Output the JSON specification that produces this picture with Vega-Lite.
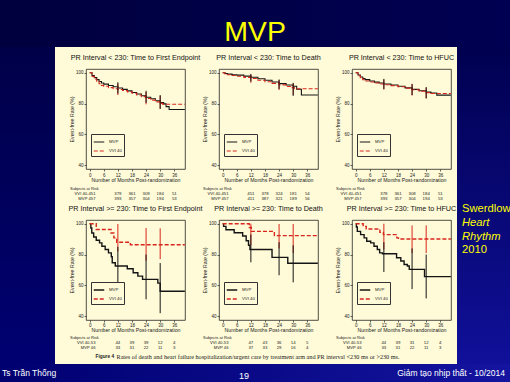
{
"$schema":"https://vega.github.io/schema/vega-lite/v6.json",
"background":"#fffbd8",
"padding":0,
"spacing":0,
"config":{
 "font":"Liberation Sans",
 "view":{"stroke":null},
 "axis":{"grid":false,"domain":false,"labelOverlap":false,"labelFlush":false,"labelFont":"Liberation Sans","titleFont":"Liberation Sans","labelFontSize":4.5,"titleFontSize":5.2,"titleFontWeight":"normal","labelColor":"#222","titleColor":"#222","tickColor":"#222","tickSize":2,"tickWidth":0.7,"labelPadding":1,"titlePadding":0.5},
 "title":{"font":"Liberation Sans","fontSize":7.2,"fontWeight":"normal","color":"#111","offset":8}
},
"datasets":{
 "km":[
  {"p":1,"arm":"MVP","m":0,"v":100},{"p":1,"arm":"MVP","m":1,"v":98.2},{"p":1,"arm":"MVP","m":2,"v":96.8},{"p":1,"arm":"MVP","m":3,"v":95.5},{"p":1,"arm":"MVP","m":4,"v":94.3},{"p":1,"arm":"MVP","m":5,"v":93.3},{"p":1,"arm":"MVP","m":6,"v":92.6},{"p":1,"arm":"MVP","m":8,"v":91.7},{"p":1,"arm":"MVP","m":10,"v":90.9},{"p":1,"arm":"MVP","m":12,"v":90.1},{"p":1,"arm":"MVP","m":14,"v":89.2},{"p":1,"arm":"MVP","m":16,"v":88.2},{"p":1,"arm":"MVP","m":18,"v":87.2},{"p":1,"arm":"MVP","m":20,"v":86.2},{"p":1,"arm":"MVP","m":22,"v":85.1},{"p":1,"arm":"MVP","m":24,"v":84.1},{"p":1,"arm":"MVP","m":26,"v":83.1},{"p":1,"arm":"MVP","m":28,"v":81.8},{"p":1,"arm":"MVP","m":30,"v":80.6},{"p":1,"arm":"MVP","m":31.5,"v":79.8},{"p":1,"arm":"MVP","m":32.5,"v":78},{"p":1,"arm":"MVP","m":33.8,"v":76.2},{"p":1,"arm":"MVP","m":40.5,"v":76.2},
  {"p":1,"arm":"VVI 40","m":0,"v":100},{"p":1,"arm":"VVI 40","m":1,"v":97.6},{"p":1,"arm":"VVI 40","m":2,"v":95.8},{"p":1,"arm":"VVI 40","m":3,"v":94.2},{"p":1,"arm":"VVI 40","m":4,"v":92.8},{"p":1,"arm":"VVI 40","m":5,"v":91.8},{"p":1,"arm":"VVI 40","m":6,"v":91.2},{"p":1,"arm":"VVI 40","m":8,"v":90.3},{"p":1,"arm":"VVI 40","m":10,"v":89.6},{"p":1,"arm":"VVI 40","m":12,"v":89.1},{"p":1,"arm":"VVI 40","m":14,"v":88.5},{"p":1,"arm":"VVI 40","m":16,"v":87.6},{"p":1,"arm":"VVI 40","m":18,"v":86.7},{"p":1,"arm":"VVI 40","m":20,"v":85.6},{"p":1,"arm":"VVI 40","m":22,"v":84.5},{"p":1,"arm":"VVI 40","m":24,"v":83.3},{"p":1,"arm":"VVI 40","m":26,"v":82.2},{"p":1,"arm":"VVI 40","m":28,"v":81.1},{"p":1,"arm":"VVI 40","m":30,"v":80.1},{"p":1,"arm":"VVI 40","m":31,"v":79.6},{"p":1,"arm":"VVI 40","m":40.5,"v":79.6},
  {"p":2,"arm":"MVP","m":0,"v":100},{"p":2,"arm":"MVP","m":1,"v":99.5},{"p":2,"arm":"MVP","m":2,"v":99.1},{"p":2,"arm":"MVP","m":4,"v":98.7},{"p":2,"arm":"MVP","m":6,"v":98.4},{"p":2,"arm":"MVP","m":9,"v":97.8},{"p":2,"arm":"MVP","m":12,"v":97.1},{"p":2,"arm":"MVP","m":15,"v":96.1},{"p":2,"arm":"MVP","m":18,"v":95.1},{"p":2,"arm":"MVP","m":21,"v":94},{"p":2,"arm":"MVP","m":24,"v":92.9},{"p":2,"arm":"MVP","m":27,"v":92},{"p":2,"arm":"MVP","m":30,"v":91.2},{"p":2,"arm":"MVP","m":31.5,"v":89.3},{"p":2,"arm":"MVP","m":33.5,"v":85.6},{"p":2,"arm":"MVP","m":40.5,"v":85.6},
  {"p":2,"arm":"VVI 40","m":0,"v":100},{"p":2,"arm":"VVI 40","m":1,"v":99.2},{"p":2,"arm":"VVI 40","m":2,"v":98.7},{"p":2,"arm":"VVI 40","m":4,"v":98.2},{"p":2,"arm":"VVI 40","m":6,"v":97.7},{"p":2,"arm":"VVI 40","m":9,"v":97},{"p":2,"arm":"VVI 40","m":12,"v":96.2},{"p":2,"arm":"VVI 40","m":15,"v":95.1},{"p":2,"arm":"VVI 40","m":18,"v":94.1},{"p":2,"arm":"VVI 40","m":21,"v":93.1},{"p":2,"arm":"VVI 40","m":24,"v":92.1},{"p":2,"arm":"VVI 40","m":27,"v":91.1},{"p":2,"arm":"VVI 40","m":29,"v":90.3},{"p":2,"arm":"VVI 40","m":30.5,"v":89.6},{"p":2,"arm":"VVI 40","m":40.5,"v":89.6},
  {"p":3,"arm":"MVP","m":0,"v":100},{"p":3,"arm":"MVP","m":1,"v":98.5},{"p":3,"arm":"MVP","m":2,"v":97.2},{"p":3,"arm":"MVP","m":3,"v":96.2},{"p":3,"arm":"MVP","m":4,"v":95.5},{"p":3,"arm":"MVP","m":6,"v":94.6},{"p":3,"arm":"MVP","m":8,"v":93.9},{"p":3,"arm":"MVP","m":10,"v":93.3},{"p":3,"arm":"MVP","m":12,"v":92.7},{"p":3,"arm":"MVP","m":15,"v":92},{"p":3,"arm":"MVP","m":18,"v":91.2},{"p":3,"arm":"MVP","m":21,"v":90.2},{"p":3,"arm":"MVP","m":24,"v":89.2},{"p":3,"arm":"MVP","m":27,"v":88.3},{"p":3,"arm":"MVP","m":30,"v":87.4},{"p":3,"arm":"MVP","m":32,"v":86.8},{"p":3,"arm":"MVP","m":34.5,"v":85.5},{"p":3,"arm":"MVP","m":40.5,"v":85.5},
  {"p":3,"arm":"VVI 40","m":0,"v":100},{"p":3,"arm":"VVI 40","m":1,"v":98},{"p":3,"arm":"VVI 40","m":2,"v":96.6},{"p":3,"arm":"VVI 40","m":3,"v":95.4},{"p":3,"arm":"VVI 40","m":4,"v":94.6},{"p":3,"arm":"VVI 40","m":6,"v":94},{"p":3,"arm":"VVI 40","m":8,"v":93.3},{"p":3,"arm":"VVI 40","m":10,"v":92.7},{"p":3,"arm":"VVI 40","m":12,"v":92.2},{"p":3,"arm":"VVI 40","m":15,"v":91.6},{"p":3,"arm":"VVI 40","m":18,"v":90.9},{"p":3,"arm":"VVI 40","m":21,"v":90},{"p":3,"arm":"VVI 40","m":24,"v":89},{"p":3,"arm":"VVI 40","m":27,"v":88},{"p":3,"arm":"VVI 40","m":30,"v":87.1},{"p":3,"arm":"VVI 40","m":32,"v":86.5},{"p":3,"arm":"VVI 40","m":40.5,"v":86.5},
  {"p":4,"arm":"MVP","m":0,"v":100},{"p":4,"arm":"MVP","m":0.5,"v":97.2},{"p":4,"arm":"MVP","m":0.9,"v":94},{"p":4,"arm":"MVP","m":1.7,"v":91.4},{"p":4,"arm":"MVP","m":2.8,"v":89.3},{"p":4,"arm":"MVP","m":4.2,"v":87.6},{"p":4,"arm":"MVP","m":5.2,"v":85.4},{"p":4,"arm":"MVP","m":6.6,"v":83.3},{"p":4,"arm":"MVP","m":8,"v":81.1},{"p":4,"arm":"MVP","m":9.2,"v":78.6},{"p":4,"arm":"MVP","m":9.6,"v":74.7},{"p":4,"arm":"MVP","m":10.9,"v":72.6},{"p":4,"arm":"MVP","m":16,"v":70.8},{"p":4,"arm":"MVP","m":18.5,"v":68.2},{"p":4,"arm":"MVP","m":20.5,"v":66},{"p":4,"arm":"MVP","m":22.5,"v":63.9},{"p":4,"arm":"MVP","m":29,"v":61.5},{"p":4,"arm":"MVP","m":30,"v":56.2},{"p":4,"arm":"MVP","m":40.5,"v":56.2},
  {"p":4,"arm":"VVI 40","m":0,"v":100},{"p":4,"arm":"VVI 40","m":2.8,"v":96.2},{"p":4,"arm":"VVI 40","m":9.1,"v":94},{"p":4,"arm":"VVI 40","m":10.3,"v":90.8},{"p":4,"arm":"VVI 40","m":11.5,"v":88},{"p":4,"arm":"VVI 40","m":17.3,"v":86.4},{"p":4,"arm":"VVI 40","m":40.5,"v":86.4},
  {"p":5,"arm":"MVP","m":0,"v":100},{"p":5,"arm":"MVP","m":0.4,"v":98.3},{"p":5,"arm":"MVP","m":1.4,"v":96.1},{"p":5,"arm":"MVP","m":4.9,"v":94.1},{"p":5,"arm":"MVP","m":8.5,"v":92},{"p":5,"arm":"MVP","m":10,"v":89},{"p":5,"arm":"MVP","m":11,"v":86},{"p":5,"arm":"MVP","m":11.6,"v":83.3},{"p":5,"arm":"MVP","m":21,"v":78.2},{"p":5,"arm":"MVP","m":27.7,"v":74.4},{"p":5,"arm":"MVP","m":40.5,"v":74.4},
  {"p":5,"arm":"VVI 40","m":0,"v":100},{"p":5,"arm":"VVI 40","m":11.3,"v":97.5},{"p":5,"arm":"VVI 40","m":12.2,"v":95},{"p":5,"arm":"VVI 40","m":22,"v":92.3},{"p":5,"arm":"VVI 40","m":40.5,"v":92.3},
  {"p":6,"arm":"MVP","m":0,"v":100},{"p":6,"arm":"MVP","m":0.3,"v":97.9},{"p":6,"arm":"MVP","m":0.7,"v":95},{"p":6,"arm":"MVP","m":2.1,"v":92.9},{"p":6,"arm":"MVP","m":3.6,"v":90.8},{"p":6,"arm":"MVP","m":4.7,"v":88.6},{"p":6,"arm":"MVP","m":6.4,"v":87.6},{"p":6,"arm":"MVP","m":7.8,"v":85.4},{"p":6,"arm":"MVP","m":9.2,"v":83.3},{"p":6,"arm":"MVP","m":10.2,"v":81.1},{"p":6,"arm":"MVP","m":11.4,"v":80.5},{"p":6,"arm":"MVP","m":17.4,"v":77.9},{"p":6,"arm":"MVP","m":19.2,"v":75.8},{"p":6,"arm":"MVP","m":20.6,"v":73.6},{"p":6,"arm":"MVP","m":22,"v":72.6},{"p":6,"arm":"MVP","m":22.8,"v":70.4},{"p":6,"arm":"MVP","m":29.3,"v":65.7},{"p":6,"arm":"MVP","m":40.5,"v":65.7},
  {"p":6,"arm":"VVI 40","m":0,"v":100},{"p":6,"arm":"VVI 40","m":3.2,"v":98.3},{"p":6,"arm":"VVI 40","m":4.5,"v":96.6},{"p":6,"arm":"VVI 40","m":10.3,"v":94.4},{"p":6,"arm":"VVI 40","m":11.8,"v":92.9},{"p":6,"arm":"VVI 40","m":17.5,"v":90.8},{"p":6,"arm":"VVI 40","m":18.2,"v":90.1},{"p":6,"arm":"VVI 40","m":40.5,"v":90.1}
 ],
 "ci":[
  {"p":1,"arm":"MVP","m":12,"lo":86.5,"hi":93.8},{"p":1,"arm":"MVP","m":24,"lo":80.5,"hi":88.3},{"p":1,"arm":"MVP","m":30,"lo":76.6,"hi":85.5},
  {"p":1,"arm":"VVI 40","m":12,"lo":85.5,"hi":93},{"p":1,"arm":"VVI 40","m":24,"lo":79.5,"hi":87.5},{"p":1,"arm":"VVI 40","m":30,"lo":76.5,"hi":85},
  {"p":2,"arm":"MVP","m":12,"lo":94.3,"hi":99.2},{"p":2,"arm":"MVP","m":24,"lo":89.5,"hi":95.6},{"p":2,"arm":"MVP","m":30,"lo":85,"hi":93.4},
  {"p":2,"arm":"VVI 40","m":12,"lo":93.5,"hi":98.8},{"p":2,"arm":"VVI 40","m":24,"lo":88.8,"hi":95.2},{"p":2,"arm":"VVI 40","m":30,"lo":85.5,"hi":93},
  {"p":3,"arm":"MVP","m":12,"lo":89.5,"hi":96},{"p":3,"arm":"MVP","m":24,"lo":85.5,"hi":92.8},{"p":3,"arm":"MVP","m":30,"lo":83.5,"hi":90.6},
  {"p":3,"arm":"VVI 40","m":12,"lo":89,"hi":95.5},{"p":3,"arm":"VVI 40","m":24,"lo":85.2,"hi":92.5},{"p":3,"arm":"VVI 40","m":30,"lo":83.2,"hi":90.4},
  {"p":4,"arm":"MVP","m":12,"lo":50,"hi":85},{"p":4,"arm":"MVP","m":24,"lo":51,"hi":80},{"p":4,"arm":"MVP","m":30,"lo":42,"hi":74.5},
  {"p":4,"arm":"VVI 40","m":12,"lo":82,"hi":99.8},{"p":4,"arm":"VVI 40","m":24,"lo":76,"hi":97.2},{"p":4,"arm":"VVI 40","m":30,"lo":77,"hi":97},
  {"p":5,"arm":"MVP","m":12,"lo":75,"hi":93},{"p":5,"arm":"MVP","m":24,"lo":66.6,"hi":88},{"p":5,"arm":"MVP","m":30,"lo":62,"hi":86},
  {"p":5,"arm":"VVI 40","m":12,"lo":86,"hi":100},{"p":5,"arm":"VVI 40","m":24,"lo":84,"hi":99.8},{"p":5,"arm":"VVI 40","m":30,"lo":81,"hi":99.8},
  {"p":6,"arm":"MVP","m":12,"lo":68.7,"hi":88},{"p":6,"arm":"MVP","m":24,"lo":57.6,"hi":84},{"p":6,"arm":"MVP","m":30,"lo":51.6,"hi":80},
  {"p":6,"arm":"VVI 40","m":12,"lo":83.3,"hi":100},{"p":6,"arm":"VVI 40","m":24,"lo":81,"hi":98.9},{"p":6,"arm":"VVI 40","m":30,"lo":81,"hi":98.9}
 ],
 "risk":[
  {"p":1,"row":"VVI 40-451","m":12,"n":379},{"p":1,"row":"VVI 40-451","m":18,"n":361},{"p":1,"row":"VVI 40-451","m":24,"n":309},{"p":1,"row":"VVI 40-451","m":30,"n":184},{"p":1,"row":"VVI 40-451","m":36,"n":51},
  {"p":1,"row":"MVP 457","m":12,"n":393},{"p":1,"row":"MVP 457","m":18,"n":357},{"p":1,"row":"MVP 457","m":24,"n":304},{"p":1,"row":"MVP 457","m":30,"n":194},{"p":1,"row":"MVP 457","m":36,"n":53},
  {"p":2,"row":"VVI 40-451","m":12,"n":451},{"p":2,"row":"VVI 40-451","m":18,"n":378},{"p":2,"row":"VVI 40-451","m":24,"n":324},{"p":2,"row":"VVI 40-451","m":30,"n":181},{"p":2,"row":"VVI 40-451","m":36,"n":54},
  {"p":2,"row":"MVP 457","m":12,"n":411},{"p":2,"row":"MVP 457","m":18,"n":387},{"p":2,"row":"MVP 457","m":24,"n":321},{"p":2,"row":"MVP 457","m":30,"n":189},{"p":2,"row":"MVP 457","m":36,"n":56},
  {"p":3,"row":"VVI 40-451","m":12,"n":378},{"p":3,"row":"VVI 40-451","m":18,"n":361},{"p":3,"row":"VVI 40-451","m":24,"n":308},{"p":3,"row":"VVI 40-451","m":30,"n":184},{"p":3,"row":"VVI 40-451","m":36,"n":51},
  {"p":3,"row":"MVP 457","m":12,"n":393},{"p":3,"row":"MVP 457","m":18,"n":357},{"p":3,"row":"MVP 457","m":24,"n":304},{"p":3,"row":"MVP 457","m":30,"n":194},{"p":3,"row":"MVP 457","m":36,"n":53},
  {"p":4,"row":"VVI 40-53","m":12,"n":44},{"p":4,"row":"VVI 40-53","m":18,"n":39},{"p":4,"row":"VVI 40-53","m":24,"n":39},{"p":4,"row":"VVI 40-53","m":30,"n":12},{"p":4,"row":"VVI 40-53","m":36,"n":4},
  {"p":4,"row":"MVP 46","m":12,"n":33},{"p":4,"row":"MVP 46","m":18,"n":31},{"p":4,"row":"MVP 46","m":24,"n":22},{"p":4,"row":"MVP 46","m":30,"n":11},{"p":4,"row":"MVP 46","m":36,"n":3},
  {"p":5,"row":"VVI 40-53","m":12,"n":47},{"p":5,"row":"VVI 40-53","m":18,"n":43},{"p":5,"row":"VVI 40-53","m":24,"n":36},{"p":5,"row":"VVI 40-53","m":30,"n":14},{"p":5,"row":"VVI 40-53","m":36,"n":5},
  {"p":5,"row":"MVP 46","m":12,"n":37},{"p":5,"row":"MVP 46","m":18,"n":33},{"p":5,"row":"MVP 46","m":24,"n":29},{"p":5,"row":"MVP 46","m":30,"n":16},{"p":5,"row":"MVP 46","m":36,"n":4},
  {"p":6,"row":"VVI 40-53","m":12,"n":44},{"p":6,"row":"VVI 40-53","m":18,"n":39},{"p":6,"row":"VVI 40-53","m":24,"n":31},{"p":6,"row":"VVI 40-53","m":30,"n":12},{"p":6,"row":"VVI 40-53","m":36,"n":4},
  {"p":6,"row":"MVP 46","m":12,"n":33},{"p":6,"row":"MVP 46","m":18,"n":31},{"p":6,"row":"MVP 46","m":24,"n":22},{"p":6,"row":"MVP 46","m":30,"n":11},{"p":6,"row":"MVP 46","m":36,"n":3}
 ]
},
"resolve":{"scale":{"color":"independent","strokeDash":"independent"},"legend":{"color":"independent","strokeDash":"independent"}},
"vconcat":[
 {"width":510,"height":47,"view":{"stroke":null,"fill":"#000048"},"data":{"values":[{}]},
  "layer":[
   {"mark":{"type":"rect","fill":{"gradient":"linear","x1":0,"y1":0,"x2":1,"y2":0,"stops":[{"offset":0,"color":"#00003e"},{"offset":1,"color":"#000052"}]}},"encoding":{}},
   {"mark":{"type":"text","text":"MVP","font":"Liberation Sans","fontSize":28.5,"color":"#ffff00","baseline":"alphabetic","dy":17.5},"encoding":{}}
  ]},
 {"hconcat":[
   {"width":55,"height":317,"view":{"stroke":null,"fill":"#00005c"},"data":{"values":[{}]},
    "mark":{"type":"rect","fill":{"gradient":"linear","x1":0,"y1":0,"x2":0,"y2":1,"stops":[{"offset":0,"color":"#000048"},{"offset":1,"color":"#000072"}]}},"encoding":{}},
   {"width":13,"height":1,"data":{"values":[{}]},"mark":{"type":"rect","opacity":0},"encoding":{}},
   {"vconcat":[
     {"width":1,"height":3,"data":{"values":[{}]},"mark":{"type":"rect","opacity":0},"encoding":{}},
     {"hconcat":[
       {"width":99,"height":100,"view":{"fill":"#fffbd8","stroke":"#222","strokeWidth":0.8},
        "title":"PR Interval < 230: Time to First Endpoint",
        "layer":[
         {"data":{"name":"km"},"transform":[{"filter":"datum.p == 1"}],"mark":{"type":"line","interpolate":"step-after","strokeWidth":1.1},
          "encoding":{
           "x":{"field":"m","type":"quantitative","scale":{"domain":[-1.56,40.56],"nice":false,"zero":false},"axis":{"values":[0,6,12,18,24,30,36],"title":"Number of Months Post-randomization"}},
           "y":{"field":"v","type":"quantitative","scale":{"domain":[37.6,102.4],"nice":false,"zero":false},"axis":{"values":[40,60,80,100],"title":"Event-free Rate (%)"}},
           "color":{"field":"arm","type":"nominal","scale":{"domain":["MVP","VVI 40"],"range":["#141414","#d8261c"]},"legend":{"title":null,"orient":"none","legendX":5,"legendY":65,"symbolType":"stroke","symbolSize":110,"symbolStrokeWidth":1.2,"strokeColor":"#333","fillColor":"#fffbd8","padding":2,"rowPadding":-4,"labelOffset":4,"labelFontSize":4.3,"labelColor":"#222"}},
           "strokeDash":{"field":"arm","type":"nominal","scale":{"domain":["MVP","VVI 40"],"range":[[1,0],[4,2]]},"legend":{"title":null,"orient":"none","legendX":5,"legendY":65,"symbolType":"stroke","symbolSize":110,"symbolStrokeWidth":1.2,"strokeColor":"#333","fillColor":"#fffbd8","padding":2,"rowPadding":-4,"labelOffset":4,"labelFontSize":4.3,"labelColor":"#222"}}}},
         {"data":{"name":"ci"},"transform":[{"filter":"datum.p == 1 && datum.arm == 'VVI 40'"}],"mark":{"type":"rule","color":"#d8261c","strokeWidth":1},"encoding":{"x":{"field":"m","type":"quantitative","axis":{"values":[0,6,12,18,24,30,36],"title":"Number of Months Post-randomization"}},"y":{"field":"lo","type":"quantitative","axis":{"values":[40,60,80,100],"title":"Event-free Rate (%)"}},"y2":{"field":"hi"}}},
         {"data":{"name":"ci"},"transform":[{"filter":"datum.p == 1 && datum.arm == 'MVP'"}],"mark":{"type":"rule","color":"#141414","strokeWidth":1},"encoding":{"x":{"field":"m","type":"quantitative","axis":{"values":[0,6,12,18,24,30,36],"title":"Number of Months Post-randomization"}},"y":{"field":"lo","type":"quantitative","axis":{"values":[40,60,80,100],"title":"Event-free Rate (%)"}},"y2":{"field":"hi"}}}
        ]},
       {"width":99,"height":100,"view":{"fill":"#fffbd8","stroke":"#222","strokeWidth":0.8},
        "title":"PR Interval < 230: Time to Death",
        "layer":[
         {"data":{"name":"km"},"transform":[{"filter":"datum.p == 2"}],"mark":{"type":"line","interpolate":"step-after","strokeWidth":1.1},
          "encoding":{
           "x":{"field":"m","type":"quantitative","scale":{"domain":[-1.56,40.56],"nice":false,"zero":false},"axis":{"values":[0,6,12,18,24,30,36],"title":"Number of Months Post-randomization"}},
           "y":{"field":"v","type":"quantitative","scale":{"domain":[37.6,102.4],"nice":false,"zero":false},"axis":{"values":[40,60,80,100],"title":"Event-free Rate (%)"}},
           "color":{"field":"arm","type":"nominal","scale":{"domain":["MVP","VVI 40"],"range":["#141414","#d8261c"]},"legend":{"title":null,"orient":"none","legendX":5,"legendY":65,"symbolType":"stroke","symbolSize":110,"symbolStrokeWidth":1.2,"strokeColor":"#333","fillColor":"#fffbd8","padding":2,"rowPadding":-4,"labelOffset":4,"labelFontSize":4.3,"labelColor":"#222"}},
           "strokeDash":{"field":"arm","type":"nominal","scale":{"domain":["MVP","VVI 40"],"range":[[1,0],[4,2]]},"legend":{"title":null,"orient":"none","legendX":5,"legendY":65,"symbolType":"stroke","symbolSize":110,"symbolStrokeWidth":1.2,"strokeColor":"#333","fillColor":"#fffbd8","padding":2,"rowPadding":-4,"labelOffset":4,"labelFontSize":4.3,"labelColor":"#222"}}}},
         {"data":{"name":"ci"},"transform":[{"filter":"datum.p == 2 && datum.arm == 'VVI 40'"}],"mark":{"type":"rule","color":"#d8261c","strokeWidth":1},"encoding":{"x":{"field":"m","type":"quantitative","axis":{"values":[0,6,12,18,24,30,36],"title":"Number of Months Post-randomization"}},"y":{"field":"lo","type":"quantitative","axis":{"values":[40,60,80,100],"title":"Event-free Rate (%)"}},"y2":{"field":"hi"}}},
         {"data":{"name":"ci"},"transform":[{"filter":"datum.p == 2 && datum.arm == 'MVP'"}],"mark":{"type":"rule","color":"#141414","strokeWidth":1},"encoding":{"x":{"field":"m","type":"quantitative","axis":{"values":[0,6,12,18,24,30,36],"title":"Number of Months Post-randomization"}},"y":{"field":"lo","type":"quantitative","axis":{"values":[40,60,80,100],"title":"Event-free Rate (%)"}},"y2":{"field":"hi"}}}
        ]},
       {"width":99,"height":100,"view":{"fill":"#fffbd8","stroke":"#222","strokeWidth":0.8},
        "title":"PR Interval < 230: Time to HFUC",
        "layer":[
         {"data":{"name":"km"},"transform":[{"filter":"datum.p == 3"}],"mark":{"type":"line","interpolate":"step-after","strokeWidth":1.1},
          "encoding":{
           "x":{"field":"m","type":"quantitative","scale":{"domain":[-1.56,40.56],"nice":false,"zero":false},"axis":{"values":[0,6,12,18,24,30,36],"title":"Number of Months Post-randomization"}},
           "y":{"field":"v","type":"quantitative","scale":{"domain":[37.6,102.4],"nice":false,"zero":false},"axis":{"values":[40,60,80,100],"title":"Event-free Rate (%)"}},
           "color":{"field":"arm","type":"nominal","scale":{"domain":["MVP","VVI 40"],"range":["#141414","#d8261c"]},"legend":{"title":null,"orient":"none","legendX":5,"legendY":65,"symbolType":"stroke","symbolSize":110,"symbolStrokeWidth":1.2,"strokeColor":"#333","fillColor":"#fffbd8","padding":2,"rowPadding":-4,"labelOffset":4,"labelFontSize":4.3,"labelColor":"#222"}},
           "strokeDash":{"field":"arm","type":"nominal","scale":{"domain":["MVP","VVI 40"],"range":[[1,0],[4,2]]},"legend":{"title":null,"orient":"none","legendX":5,"legendY":65,"symbolType":"stroke","symbolSize":110,"symbolStrokeWidth":1.2,"strokeColor":"#333","fillColor":"#fffbd8","padding":2,"rowPadding":-4,"labelOffset":4,"labelFontSize":4.3,"labelColor":"#222"}}}},
         {"data":{"name":"ci"},"transform":[{"filter":"datum.p == 3 && datum.arm == 'VVI 40'"}],"mark":{"type":"rule","color":"#d8261c","strokeWidth":1},"encoding":{"x":{"field":"m","type":"quantitative","axis":{"values":[0,6,12,18,24,30,36],"title":"Number of Months Post-randomization"}},"y":{"field":"lo","type":"quantitative","axis":{"values":[40,60,80,100],"title":"Event-free Rate (%)"}},"y2":{"field":"hi"}}},
         {"data":{"name":"ci"},"transform":[{"filter":"datum.p == 3 && datum.arm == 'MVP'"}],"mark":{"type":"rule","color":"#141414","strokeWidth":1},"encoding":{"x":{"field":"m","type":"quantitative","axis":{"values":[0,6,12,18,24,30,36],"title":"Number of Months Post-randomization"}},"y":{"field":"lo","type":"quantitative","axis":{"values":[40,60,80,100],"title":"Event-free Rate (%)"}},"y2":{"field":"hi"}}}
        ]}
      ],"spacing":34,"bounds":"flush","resolve":{"scale":{"color":"independent","strokeDash":"independent"},"legend":{"color":"independent","strokeDash":"independent"}}},
     {"hconcat":[
       {"width":99,"height":10,"title":{"text":"Subjects at Risk","anchor":"start","frame":"group","dx":-16,"fontSize":4,"offset":0.5,"color":"#222"},
        "data":{"name":"risk"},"transform":[{"filter":"datum.p == 1"}],"mark":{"type":"text","fontSize":4.3,"color":"#222"},
        "encoding":{"x":{"field":"m","type":"quantitative","scale":{"domain":[-1.56,40.56],"nice":false,"zero":false},"axis":null},
         "y":{"field":"row","type":"nominal","sort":null,"scale":{"paddingInner":0,"paddingOuter":0},"axis":{"title":null,"ticks":false,"domain":false,"labelFontSize":4.2,"labelPadding":0,"offset":-9}},
         "text":{"field":"n","type":"quantitative"}}},
       {"width":99,"height":10,"title":{"text":"Subjects at Risk","anchor":"start","frame":"group","dx":-16,"fontSize":4,"offset":0.5,"color":"#222"},
        "data":{"name":"risk"},"transform":[{"filter":"datum.p == 2"}],"mark":{"type":"text","fontSize":4.3,"color":"#222"},
        "encoding":{"x":{"field":"m","type":"quantitative","scale":{"domain":[-1.56,40.56],"nice":false,"zero":false},"axis":null},
         "y":{"field":"row","type":"nominal","sort":null,"scale":{"paddingInner":0,"paddingOuter":0},"axis":{"title":null,"ticks":false,"domain":false,"labelFontSize":4.2,"labelPadding":0,"offset":-9}},
         "text":{"field":"n","type":"quantitative"}}},
       {"width":99,"height":10,"title":{"text":"Subjects at Risk","anchor":"start","frame":"group","dx":-16,"fontSize":4,"offset":0.5,"color":"#222"},
        "data":{"name":"risk"},"transform":[{"filter":"datum.p == 3"}],"mark":{"type":"text","fontSize":4.3,"color":"#222"},
        "encoding":{"x":{"field":"m","type":"quantitative","scale":{"domain":[-1.56,40.56],"nice":false,"zero":false},"axis":null},
         "y":{"field":"row","type":"nominal","sort":null,"scale":{"paddingInner":0,"paddingOuter":0},"axis":{"title":null,"ticks":false,"domain":false,"labelFontSize":4.2,"labelPadding":0,"offset":-9}},
         "text":{"field":"n","type":"quantitative"}}}
      ],"spacing":34,"bounds":"flush"},
     {"hconcat":[
       {"width":99,"height":100,"view":{"fill":"#fffbd8","stroke":"#222","strokeWidth":0.8},
        "title":"PR Interval >= 230: Time to First Endpoint",
        "layer":[
         {"data":{"name":"km"},"transform":[{"filter":"datum.p == 4"}],"mark":{"type":"line","interpolate":"step-after","strokeWidth":1.4},
          "encoding":{
           "x":{"field":"m","type":"quantitative","scale":{"domain":[-1.56,40.56],"nice":false,"zero":false},"axis":{"values":[0,6,12,18,24,30,36],"title":"Number of Months Post-randomization","labelPadding":0.5,"titlePadding":0}},
           "y":{"field":"v","type":"quantitative","scale":{"domain":[37.6,102.4],"nice":false,"zero":false},"axis":{"values":[40,60,80,100],"title":"Event-free Rate (%)"}},
           "color":{"field":"arm","type":"nominal","scale":{"domain":["MVP","VVI 40"],"range":["#141414","#d8261c"]},"legend":{"title":null,"orient":"none","legendX":5,"legendY":62,"symbolType":"stroke","symbolSize":110,"symbolStrokeWidth":1.3,"strokeColor":"#333","fillColor":"#fffbd8","padding":2,"rowPadding":-4,"labelOffset":4,"labelFontSize":4.3,"labelColor":"#222"}},
           "strokeDash":{"field":"arm","type":"nominal","scale":{"domain":["MVP","VVI 40"],"range":[[1,0],[4,2]]},"legend":{"title":null,"orient":"none","legendX":5,"legendY":62,"symbolType":"stroke","symbolSize":110,"symbolStrokeWidth":1.3,"strokeColor":"#333","fillColor":"#fffbd8","padding":2,"rowPadding":-4,"labelOffset":4,"labelFontSize":4.3,"labelColor":"#222"}}}},
         {"data":{"name":"ci"},"transform":[{"filter":"datum.p == 4 && datum.arm == 'VVI 40'"}],"mark":{"type":"rule","color":"#d8261c","strokeWidth":1},"encoding":{"x":{"field":"m","type":"quantitative","axis":{"values":[0,6,12,18,24,30,36],"title":"Number of Months Post-randomization","labelPadding":0.5,"titlePadding":0}},"y":{"field":"lo","type":"quantitative","axis":{"values":[40,60,80,100],"title":"Event-free Rate (%)"}},"y2":{"field":"hi"}}},
         {"data":{"name":"ci"},"transform":[{"filter":"datum.p == 4 && datum.arm == 'MVP'"}],"mark":{"type":"rule","color":"#141414","strokeWidth":1},"encoding":{"x":{"field":"m","type":"quantitative","axis":{"values":[0,6,12,18,24,30,36],"title":"Number of Months Post-randomization","labelPadding":0.5,"titlePadding":0}},"y":{"field":"lo","type":"quantitative","axis":{"values":[40,60,80,100],"title":"Event-free Rate (%)"}},"y2":{"field":"hi"}}}
        ]},
       {"width":99,"height":100,"view":{"fill":"#fffbd8","stroke":"#222","strokeWidth":0.8},
        "title":"PR Interval >= 230: Time to Death",
        "layer":[
         {"data":{"name":"km"},"transform":[{"filter":"datum.p == 5"}],"mark":{"type":"line","interpolate":"step-after","strokeWidth":1.4},
          "encoding":{
           "x":{"field":"m","type":"quantitative","scale":{"domain":[-1.56,40.56],"nice":false,"zero":false},"axis":{"values":[0,6,12,18,24,30,36],"title":"Number of Months Post-randomization","labelPadding":0.5,"titlePadding":0}},
           "y":{"field":"v","type":"quantitative","scale":{"domain":[37.6,102.4],"nice":false,"zero":false},"axis":{"values":[40,60,80,100],"title":"Event-free Rate (%)"}},
           "color":{"field":"arm","type":"nominal","scale":{"domain":["MVP","VVI 40"],"range":["#141414","#d8261c"]},"legend":{"title":null,"orient":"none","legendX":5,"legendY":62,"symbolType":"stroke","symbolSize":110,"symbolStrokeWidth":1.3,"strokeColor":"#333","fillColor":"#fffbd8","padding":2,"rowPadding":-4,"labelOffset":4,"labelFontSize":4.3,"labelColor":"#222"}},
           "strokeDash":{"field":"arm","type":"nominal","scale":{"domain":["MVP","VVI 40"],"range":[[1,0],[4,2]]},"legend":{"title":null,"orient":"none","legendX":5,"legendY":62,"symbolType":"stroke","symbolSize":110,"symbolStrokeWidth":1.3,"strokeColor":"#333","fillColor":"#fffbd8","padding":2,"rowPadding":-4,"labelOffset":4,"labelFontSize":4.3,"labelColor":"#222"}}}},
         {"data":{"name":"ci"},"transform":[{"filter":"datum.p == 5 && datum.arm == 'VVI 40'"}],"mark":{"type":"rule","color":"#d8261c","strokeWidth":1},"encoding":{"x":{"field":"m","type":"quantitative","axis":{"values":[0,6,12,18,24,30,36],"title":"Number of Months Post-randomization","labelPadding":0.5,"titlePadding":0}},"y":{"field":"lo","type":"quantitative","axis":{"values":[40,60,80,100],"title":"Event-free Rate (%)"}},"y2":{"field":"hi"}}},
         {"data":{"name":"ci"},"transform":[{"filter":"datum.p == 5 && datum.arm == 'MVP'"}],"mark":{"type":"rule","color":"#141414","strokeWidth":1},"encoding":{"x":{"field":"m","type":"quantitative","axis":{"values":[0,6,12,18,24,30,36],"title":"Number of Months Post-randomization","labelPadding":0.5,"titlePadding":0}},"y":{"field":"lo","type":"quantitative","axis":{"values":[40,60,80,100],"title":"Event-free Rate (%)"}},"y2":{"field":"hi"}}}
        ]},
       {"width":99,"height":100,"view":{"fill":"#fffbd8","stroke":"#222","strokeWidth":0.8},
        "title":"PR Interval >= 230: Time to HFUC",
        "layer":[
         {"data":{"name":"km"},"transform":[{"filter":"datum.p == 6"}],"mark":{"type":"line","interpolate":"step-after","strokeWidth":1.4},
          "encoding":{
           "x":{"field":"m","type":"quantitative","scale":{"domain":[-1.56,40.56],"nice":false,"zero":false},"axis":{"values":[0,6,12,18,24,30,36],"title":"Number of Months Post-randomization","labelPadding":0.5,"titlePadding":0}},
           "y":{"field":"v","type":"quantitative","scale":{"domain":[37.6,102.4],"nice":false,"zero":false},"axis":{"values":[40,60,80,100],"title":"Event-free Rate (%)"}},
           "color":{"field":"arm","type":"nominal","scale":{"domain":["MVP","VVI 40"],"range":["#141414","#d8261c"]},"legend":{"title":null,"orient":"none","legendX":5,"legendY":62,"symbolType":"stroke","symbolSize":110,"symbolStrokeWidth":1.3,"strokeColor":"#333","fillColor":"#fffbd8","padding":2,"rowPadding":-4,"labelOffset":4,"labelFontSize":4.3,"labelColor":"#222"}},
           "strokeDash":{"field":"arm","type":"nominal","scale":{"domain":["MVP","VVI 40"],"range":[[1,0],[4,2]]},"legend":{"title":null,"orient":"none","legendX":5,"legendY":62,"symbolType":"stroke","symbolSize":110,"symbolStrokeWidth":1.3,"strokeColor":"#333","fillColor":"#fffbd8","padding":2,"rowPadding":-4,"labelOffset":4,"labelFontSize":4.3,"labelColor":"#222"}}}},
         {"data":{"name":"ci"},"transform":[{"filter":"datum.p == 6 && datum.arm == 'VVI 40'"}],"mark":{"type":"rule","color":"#d8261c","strokeWidth":1},"encoding":{"x":{"field":"m","type":"quantitative","axis":{"values":[0,6,12,18,24,30,36],"title":"Number of Months Post-randomization","labelPadding":0.5,"titlePadding":0}},"y":{"field":"lo","type":"quantitative","axis":{"values":[40,60,80,100],"title":"Event-free Rate (%)"}},"y2":{"field":"hi"}}},
         {"data":{"name":"ci"},"transform":[{"filter":"datum.p == 6 && datum.arm == 'MVP'"}],"mark":{"type":"rule","color":"#141414","strokeWidth":1},"encoding":{"x":{"field":"m","type":"quantitative","axis":{"values":[0,6,12,18,24,30,36],"title":"Number of Months Post-randomization","labelPadding":0.5,"titlePadding":0}},"y":{"field":"lo","type":"quantitative","axis":{"values":[40,60,80,100],"title":"Event-free Rate (%)"}},"y2":{"field":"hi"}}}
        ]}
      ],"spacing":34,"bounds":"flush","resolve":{"scale":{"color":"independent","strokeDash":"independent"},"legend":{"color":"independent","strokeDash":"independent"}}},
     {"hconcat":[
       {"width":99,"height":10,"title":{"text":"Subjects at Risk","anchor":"start","frame":"group","dx":-16,"fontSize":4,"offset":0,"color":"#222"},
        "data":{"name":"risk"},"transform":[{"filter":"datum.p == 4"}],"mark":{"type":"text","fontSize":4.3,"color":"#222"},
        "encoding":{"x":{"field":"m","type":"quantitative","scale":{"domain":[-1.56,40.56],"nice":false,"zero":false},"axis":null},
         "y":{"field":"row","type":"nominal","sort":null,"scale":{"paddingInner":0,"paddingOuter":0},"axis":{"title":null,"ticks":false,"domain":false,"labelFontSize":4.2,"labelPadding":0,"offset":-9}},
         "text":{"field":"n","type":"quantitative"}}},
       {"width":99,"height":10,"title":{"text":"Subjects at Risk","anchor":"start","frame":"group","dx":-16,"fontSize":4,"offset":0,"color":"#222"},
        "data":{"name":"risk"},"transform":[{"filter":"datum.p == 5"}],"mark":{"type":"text","fontSize":4.3,"color":"#222"},
        "encoding":{"x":{"field":"m","type":"quantitative","scale":{"domain":[-1.56,40.56],"nice":false,"zero":false},"axis":null},
         "y":{"field":"row","type":"nominal","sort":null,"scale":{"paddingInner":0,"paddingOuter":0},"axis":{"title":null,"ticks":false,"domain":false,"labelFontSize":4.2,"labelPadding":0,"offset":-9}},
         "text":{"field":"n","type":"quantitative"}}},
       {"width":99,"height":10,"title":{"text":"Subjects at Risk","anchor":"start","frame":"group","dx":-16,"fontSize":4,"offset":0,"color":"#222"},
        "data":{"name":"risk"},"transform":[{"filter":"datum.p == 6"}],"mark":{"type":"text","fontSize":4.3,"color":"#222"},
        "encoding":{"x":{"field":"m","type":"quantitative","scale":{"domain":[-1.56,40.56],"nice":false,"zero":false},"axis":null},
         "y":{"field":"row","type":"nominal","sort":null,"scale":{"paddingInner":0,"paddingOuter":0},"axis":{"title":null,"ticks":false,"domain":false,"labelFontSize":4.2,"labelPadding":0,"offset":-9}},
         "text":{"field":"n","type":"quantitative"}}}
      ],"spacing":34,"bounds":"flush"},
     {"width":360,"height":5,"data":{"values":[{}]},
      "layer":[
       {"mark":{"type":"text","text":"Figure 4","font":"Liberation Sans","fontWeight":"bold","fontSize":4.8,"align":"left","dx":-170.5,"color":"#222"},"encoding":{}},
       {"mark":{"type":"text","text":"Rates of death and heart failure hospitalization/urgent care by treatment arm and PR interval <230 ms or >230 ms.","font":"Liberation Serif","fontSize":6.2,"align":"left","dx":-149.5,"color":"#222"},"encoding":{}}
      ]}
    ],"spacing":3,"resolve":{"scale":{"color":"independent","strokeDash":"independent"},"legend":{"color":"independent","strokeDash":"independent"}}},
   {"width":54,"height":317,"view":{"stroke":null,"fill":"#00006a"},"data":{"values":[{}]},
    "layer":[
     {"mark":{"type":"rect","fill":{"gradient":"linear","x1":0,"y1":0,"x2":0,"y2":1,"stops":[{"offset":0,"color":"#000050"},{"offset":1,"color":"#10109a"}]}},"encoding":{}},
     {"mark":{"type":"text","text":"Swerdlow","font":"Liberation Sans","fontSize":11.2,"color":"#ffff00","align":"left","dx":-22,"dy":3.5},"encoding":{}},
     {"mark":{"type":"text","text":"Heart","font":"Liberation Sans","fontStyle":"italic","fontSize":11.2,"color":"#ffff00","align":"left","dx":-22,"dy":17.5},"encoding":{}},
     {"mark":{"type":"text","text":"Rhythm","font":"Liberation Sans","fontStyle":"italic","fontSize":11.2,"color":"#ffff00","align":"left","dx":-22,"dy":31},"encoding":{}},
     {"mark":{"type":"text","text":"2010","font":"Liberation Sans","fontSize":11.2,"color":"#ffff00","align":"left","dx":-22,"dy":44.5},"encoding":{}}
    ]}
  ],"spacing":0,"resolve":{"scale":{"color":"independent","strokeDash":"independent"},"legend":{"color":"independent","strokeDash":"independent"}}},
 {"width":510,"height":19,"view":{"stroke":null,"fill":"#0a0a88"},"data":{"values":[{}]},
  "layer":[
   {"mark":{"type":"rect","fill":{"gradient":"linear","x1":0,"y1":0,"x2":1,"y2":0,"stops":[{"offset":0,"color":"#000070"},{"offset":1,"color":"#1414a0"}]}},"encoding":{}},
   {"mark":{"type":"text","text":"Ts Trần Thống","font":"Liberation Sans","fontSize":8.5,"color":"#ffffff","align":"left","dx":-253,"dy":-1},"encoding":{}},
   {"mark":{"type":"text","text":"19","font":"Liberation Sans","fontSize":9,"color":"#ffffff","align":"center","dx":-11,"dy":2.5},"encoding":{}},
   {"mark":{"type":"text","text":"Giảm tạo nhịp thất - 10/2014","font":"Liberation Sans","fontSize":8.5,"color":"#ffffff","align":"right","dx":250,"dy":-0.5},"encoding":{}}
  ]}
]
}
